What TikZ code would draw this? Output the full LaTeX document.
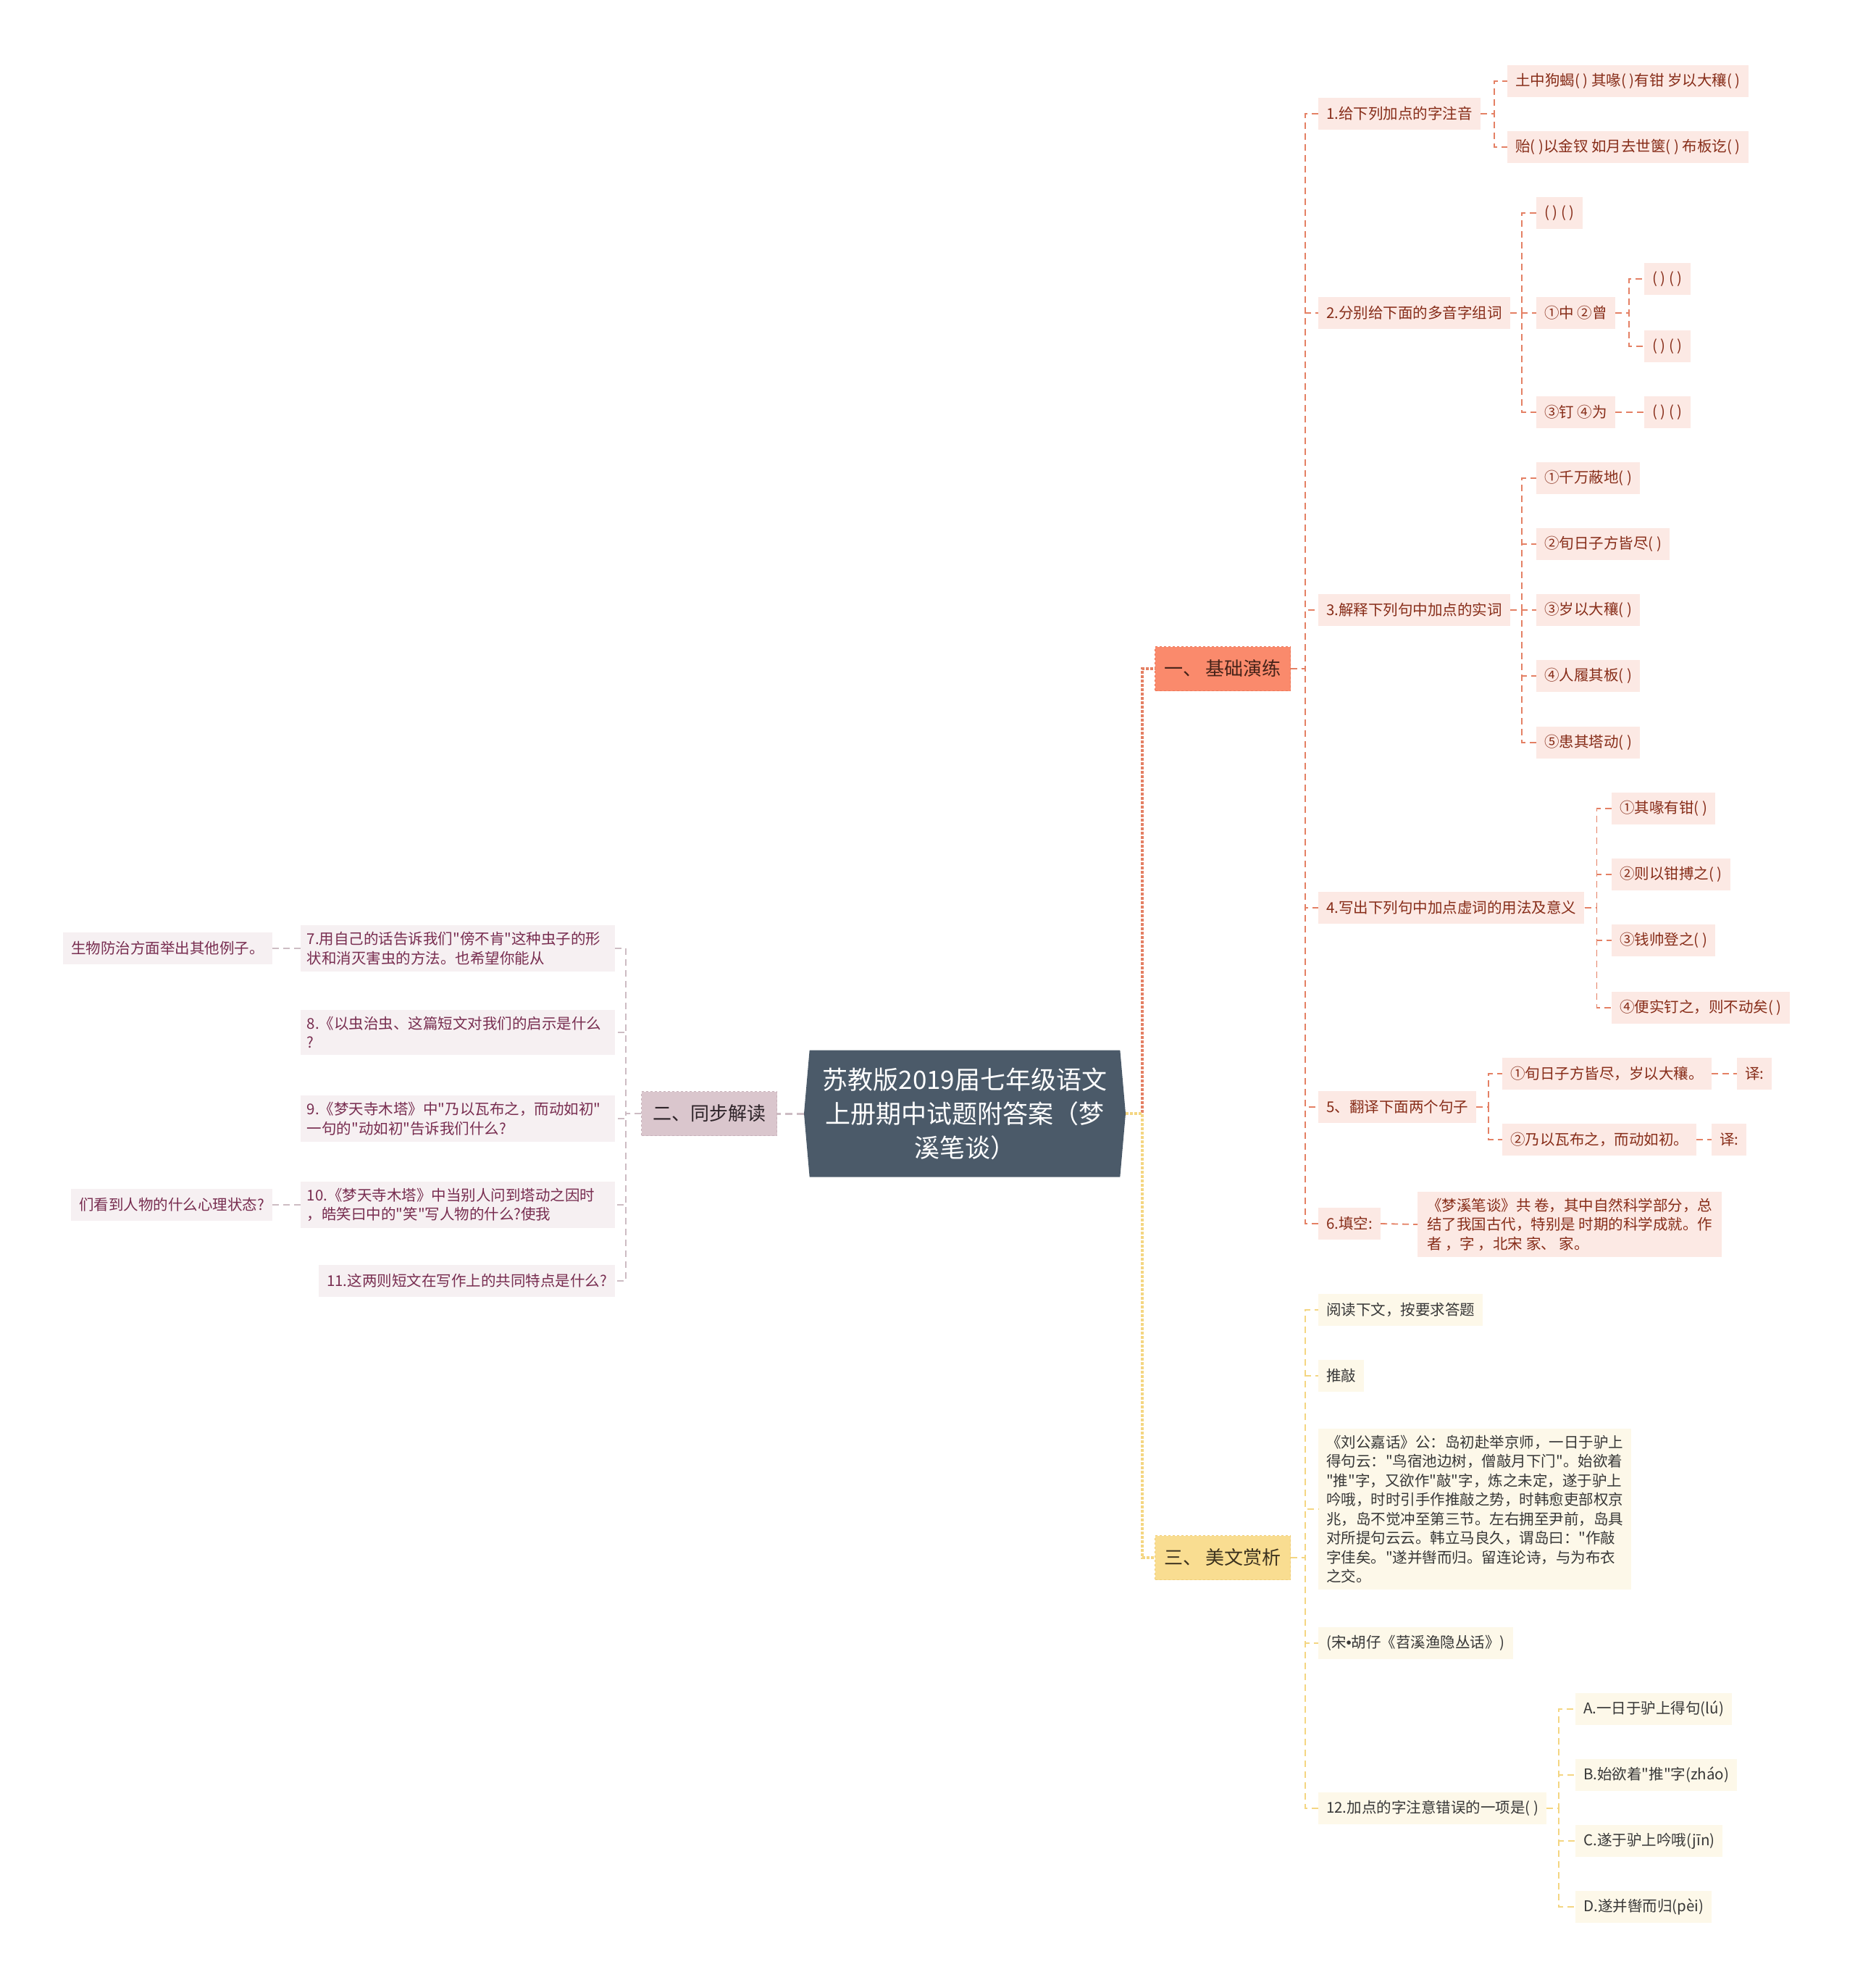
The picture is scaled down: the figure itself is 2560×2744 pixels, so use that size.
\documentclass[tikz,border=0pt]{standalone}
\usepackage{fontspec}
\setmainfont{Noto Sans CJK SC}[Ligatures=TeXOff]
\newfontfamily\dotfont{Liberation Sans}
\usepackage{tikz}
\usetikzlibrary{shapes.symbols}

\definecolor{titlebg}{RGB}{75,90,105}
\definecolor{orbg}{RGB}{250,138,108}
\definecolor{orline}{RGB}{228,128,100}
\definecolor{orleaf}{RGB}{252,233,228}
\definecolor{ortext}{RGB}{135,45,25}
\definecolor{mvbg}{RGB}{218,198,205}
\definecolor{mvline}{RGB}{205,188,195}
\definecolor{mvleaf}{RGB}{246,240,242}
\definecolor{mvtext}{RGB}{120,45,80}
\definecolor{ylbg}{RGB}{249,221,145}
\definecolor{ylline}{RGB}{244,214,130}
\definecolor{ylleaf}{RGB}{253,248,233}
\definecolor{yltext}{RGB}{55,55,55}

\newcommand{\leaffont}{\fontsize{20.5}{26.5}\selectfont}
\newcommand{\branchfont}{\fontsize{26}{30}\selectfont}
\newcommand{\titlefont}{\fontsize{35}{47}\selectfont}

\begin{document}
\begin{tikzpicture}[x=1pt, y=-1pt,
    leaf/.style={minimum height=44, inner xsep=11, inner ysep=9, font=\leaffont, align=left},
    oleaf/.style={leaf, anchor=west, fill=orleaf, text=ortext},
    mleaf/.style={leaf, anchor=east, fill=mvleaf, text=mvtext},
    qleaf/.style={mleaf, text width=416, inner xsep=9},
    yleaf/.style={leaf, anchor=west, fill=ylleaf, text=yltext},
    branch/.style={minimum width=187, minimum height=61, font=\branchfont, dashed},
    oline/.style={draw=orline, line width=1.8, dash pattern=on 9 off 6},
    mline/.style={draw=mvline, line width=1.8, dash pattern=on 9 off 6},
    yline/.style={draw=ylline, line width=1.8, dash pattern=on 9 off 6}]
\useasboundingbox (0,0) rectangle (2560,2744);
                    % Nodes
                    \node[signal, signal to=east and west, signal pointer angle=170, fill=titlebg, text=white,
                      minimum width=444, minimum height=175, font=\titlefont, align=center] (title) at (1332,1537)
                      {苏教版2019届七年级语文\\上册期中试题附答案（梦\\溪笔谈）};
                    \node[branch, fill=orbg, draw={rgb,255:red,236;green,118;blue,88}, text={rgb,255:red,70;green,35;blue,25}] (b1) at (1688,923) {一、 基础演练};
                    \node[branch, fill=mvbg, draw={rgb,255:red,200;green,178;blue,186}, text={rgb,255:red,45;green,35;blue,40}] (b2) at (979,1537) {二、同步解读};
                    \node[branch, fill=ylbg, draw={rgb,255:red,240;green,205;blue,120}, text={rgb,255:red,60;green,50;blue,30}] (b3) at (1688,2150) {三、 美文赏析};
                    % 一、基础演练
                    \node[oleaf] (c1) at (1820,157) {1.给下列加点的字注音};
                    \node[oleaf] (c1a) at (2081,112) {土中狗蝎( ) 其喙( )有钳 岁以大穰( )};
                    \node[oleaf] (c1b) at (2081,203) {贻( )以金钗 如月去世箧( ) 布板讫( )};
                    \node[oleaf] (c2) at (1820,432) {2.分别给下面的多音字组词};
                    \node[oleaf] (c2a) at (2121,294) {( ) ( )};
                    \node[oleaf] (c2b) at (2121,432) {①中 ②曾};
                    \node[oleaf] (c2b1) at (2270,385) {( ) ( )};
                    \node[oleaf] (c2b2) at (2270,478) {( ) ( )};
                    \node[oleaf] (c2c) at (2121,569) {③钉 ④为};
                    \node[oleaf] (c2c1) at (2270,569) {( ) ( )};
                    \node[oleaf] (c3) at (1820,842) {3.解释下列句中加点的实词};
                    \node[oleaf] (c3a) at (2121,660) {①千万蔽地( )};
                    \node[oleaf] (c3b) at (2121,751) {②旬日子方皆尽( )};
                    \node[oleaf] (c3c) at (2121,842) {③岁以大穰( )};
                    \node[oleaf] (c3d) at (2121,933) {④人履其板( )};
                    \node[oleaf] (c3e) at (2121,1025) {⑤患其塔动( )};
                    \node[oleaf] (c4) at (1820,1253) {4.写出下列句中加点虚词的用法及意义};
                    \node[oleaf] (c4a) at (2225,1116) {①其喙有钳( )};
                    \node[oleaf] (c4b) at (2225,1207) {②则以钳搏之( )};
                    \node[oleaf] (c4c) at (2225,1298) {③钱帅登之( )};
                    \node[oleaf] (c4d) at (2225,1391) {④便实钉之，则不动矣( )};
                    \node[oleaf] (c5) at (1820,1528) {5、翻译下面两个句子};
                    \node[oleaf] (c5a) at (2074,1482) {①旬日子方皆尽，岁以大穰。};
                    \node[oleaf] (c5a1) at (2398,1482) {译:};
                    \node[oleaf] (c5b) at (2074,1573) {②乃以瓦布之，而动如初。};
                    \node[oleaf] (c5b1) at (2363,1573) {译:};
                    \node[oleaf] (c6) at (1820,1689) {6.填空:};
                    \node[oleaf, inner xsep=13] (c6a) at (1957,1690) {《梦溪笔谈》共 卷，其中自然科学部分，总\\结了我国古代，特别是 时期的科学成就。作\\者 ，字 ，北宋 家、 家。};
                    % 二、同步解读
                    \node[qleaf] (e7) at (849,1309) {7.用自己的话告诉我们"傍不肯"这种虫子的形\\状和消灭害虫的方法。也希望你能从};
                    \node[mleaf] (e7a) at (376,1309) {生物防治方面举出其他例子。};
                    \node[qleaf] (e8) at (849,1425) {8.《以虫治虫、这篇短文对我们的启示是什么\\?};
                    \node[qleaf] (e9) at (849,1544) {9.《梦天寺木塔》中"乃以瓦布之，而动如初"\\一句的"动如初"告诉我们什么?};
                    \node[qleaf] (e10) at (849,1663) {10.《梦天寺木塔》中当别人问到塔动之因时\\，皓笑曰中的"笑"写人物的什么?使我};
                    \node[mleaf] (e10a) at (376,1663) {们看到人物的什么心理状态?};
                    \node[mleaf] (e11) at (849,1768) {11.这两则短文在写作上的共同特点是什么?};
                    % 三、美文赏析
                    \node[yleaf] (d1) at (1820,1808) {阅读下文，按要求答题};
                    \node[yleaf] (d2) at (1820,1899) {推敲};
                    \node[yleaf] (d3) at (1820,2083) {《刘公嘉话》公：岛初赴举京师，一日于驴上\\得句云："鸟宿池边树，僧敲月下门"。始欲着\\"推"字，又欲作"敲"字，炼之未定，遂于驴上\\吟哦，时时引手作推敲之势，时韩愈吏部权京\\兆，岛不觉冲至第三节。左右拥至尹前，岛具\\对所提句云云。韩立马良久，谓岛曰："作敲\\字佳矣。"遂并辔而归。留连论诗，与为布衣\\之交。};
                    \node[yleaf] (d4) at (1820,2268) {(宋{\dotfont •}胡仔《苕溪渔隐丛话》)};
                    \node[yleaf] (d5) at (1820,2496) {12.加点的字注意错误的一项是( )};
                    \node[yleaf] (d5a) at (2175,2359) {A.一日于驴上得句(lú)};
                    \node[yleaf] (d5b) at (2175,2450) {B.始欲着"推"字(zháo)};
                    \node[yleaf] (d5c) at (2175,2541) {C.遂于驴上吟哦(jīn)};
                    \node[yleaf] (d5d) at (2175,2632) {D.遂并辔而归(pèi)};
                    % Edges
                    \draw[draw=orline, line width=3.5, dash pattern=on 4 off 2] (title.east) -- ++(23,0) |- (b1.west);
                    \draw[draw=ylline, line width=3.5, dash pattern=on 4 off 2] (title.east) -- ++(23,0) |- (b3.west);
                    \draw[draw=mvline, line width=3, dash pattern=on 10 off 6] (title.west) -- (b2.east);
                    \foreach \c in {c1,c2,c3,c4,c5,c6}
                      \draw[oline] (b1.east) -- ++(20,0) |- (\c.west);
                    \foreach \c in {c1a,c1b}
                      \draw[oline] (c1.east) -- ++(19,0) |- (\c.west);
                    \foreach \c in {c2a,c2b,c2c}
                      \draw[oline] (c2.east) -- ++(16,0) |- (\c.west);
                    \foreach \c in {c2b1,c2b2}
                      \draw[oline] (c2b.east) -- ++(19,0) |- (\c.west);
                    \draw[oline] (c2c.east) -- (c2c1.west);
                    \foreach \c in {c3a,c3b,c3c,c3d,c3e}
                      \draw[oline] (c3.east) -- ++(16,0) |- (\c.west);
                    \foreach \c in {c4a,c4b,c4c,c4d}
                      \draw[oline] (c4.east) -- ++(17,0) |- (\c.west);
                    \foreach \c in {c5a,c5b}
                      \draw[oline] (c5.east) -- ++(17,0) |- (\c.west);
                    \draw[oline] (c5a.east) -- (c5a1.west);
                    \draw[oline] (c5b.east) -- (c5b1.west);
                    \draw[oline] (c6.east) -- (c6a.west);
                    \foreach \e in {e7,e8,e9,e10,e11}
                      \draw[mline] (b2.west) -- ++(-21,0) |- (\e.east);
                    \draw[mline] (e7.west) -- (e7a.east);
                    \draw[mline] (e10.west) -- (e10a.east);
                    \foreach \d in {d1,d2,d3,d4,d5}
                      \draw[yline] (b3.east) -- ++(20,0) |- (\d.west);
                    \foreach \d in {d5a,d5b,d5c,d5d}
                      \draw[yline] (d5.east) -- ++(17,0) |- (\d.west);
                \end{tikzpicture}
\end{document}
